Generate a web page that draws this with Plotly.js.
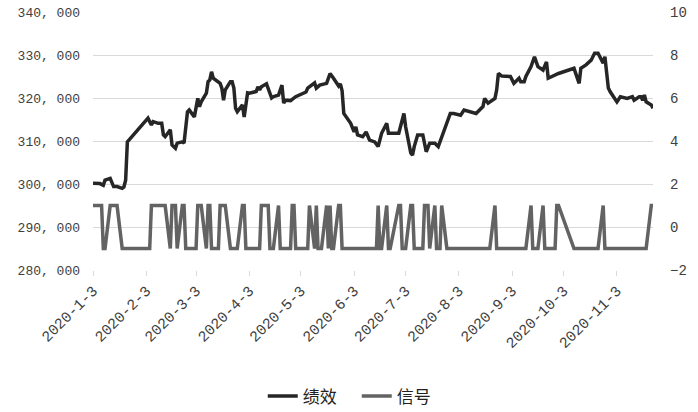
<!DOCTYPE html>
<html>
<head>
<meta charset="utf-8">
<script src="https://cdn.plot.ly/plotly-3.0.1.min.js"></script>
<style>
  html, body { margin: 0; padding: 0; background: #fff; }
  #graf { width: 698px; height: 412px; }
</style>
</head>
<body>
<div id="graf"></div>
<script>
// 绩效 (left axis)
let perfDates = [
  '2020-01-03','2020-01-07','2020-01-09','2020-01-10','2020-01-13','2020-01-14','2020-01-15','2020-01-17',
  '2020-01-20','2020-01-21','2020-01-22','2020-01-23','2020-02-04','2020-02-06','2020-02-07','2020-02-10',
  '2020-02-12','2020-02-13','2020-02-14','2020-02-17','2020-02-18','2020-02-20','2020-02-21','2020-02-24',
  '2020-02-25','2020-02-27','2020-02-28','2020-03-02','2020-03-03','2020-03-04','2020-03-05','2020-03-06',
  '2020-03-09','2020-03-10','2020-03-11','2020-03-12','2020-03-13','2020-03-16','2020-03-17','2020-03-18',
  '2020-03-19','2020-03-20','2020-03-23','2020-03-24','2020-03-25','2020-03-26','2020-03-27','2020-03-30',
  '2020-03-31','2020-04-02','2020-04-03','2020-04-07','2020-04-08','2020-04-09','2020-04-10','2020-04-13',
  '2020-04-14','2020-04-16','2020-04-17','2020-04-20','2020-04-22','2020-04-23','2020-04-24','2020-04-27',
  '2020-04-30','2020-05-06','2020-05-07','2020-05-08','2020-05-11','2020-05-12','2020-05-14','2020-05-18',
  '2020-05-19','2020-05-20','2020-05-22','2020-05-25','2020-05-26','2020-05-27','2020-05-28','2020-06-01',
  '2020-06-03','2020-06-04','2020-06-05','2020-06-08','2020-06-10','2020-06-12','2020-06-15','2020-06-17',
  '2020-06-19','2020-06-22','2020-06-23','2020-06-29','2020-07-02','2020-07-03','2020-07-06','2020-07-07',
  '2020-07-08','2020-07-10','2020-07-13','2020-07-15','2020-07-17','2020-07-20','2020-07-22','2020-07-24',
  '2020-07-29','2020-07-31','2020-08-04','2020-08-06','2020-08-10','2020-08-13','2020-08-17','2020-08-18',
  '2020-08-20','2020-08-24','2020-08-25','2020-08-26','2020-08-28','2020-09-02','2020-09-04','2020-09-07',
  '2020-09-08','2020-09-10','2020-09-11','2020-09-14','2020-09-16','2020-09-18','2020-09-21','2020-09-23',
  '2020-09-24','2020-09-28','2020-09-30','2020-10-09','2020-10-12','2020-10-13','2020-10-16','2020-10-19',
  '2020-10-21','2020-10-23','2020-10-26','2020-10-27','2020-10-29','2020-10-30','2020-11-03','2020-11-05',
  '2020-11-09','2020-11-12','2020-11-13','2020-11-16','2020-11-17','2020-11-18','2020-11-19','2020-11-20',
  '2020-11-23','2020-11-24'
];
let perfValues = [
  300200,300100,299700,300900,301300,300200,299400,299400,
  299000,299300,300900,309800,315300,313700,314500,314100,
  314100,311400,311000,312600,309100,308300,309500,309800,
  309500,316800,317200,315600,317700,319900,318000,319100,
  321100,323800,324200,326100,324600,323800,323400,322300,
  319500,321900,323800,323800,322300,317600,316800,318400,
  315600,321200,321100,321500,322600,321900,322600,323300,
  322300,320000,320300,320700,323000,318800,319500,319400,
  320300,321400,322300,322600,323500,322300,323000,323400,
  324600,325700,324600,322800,323300,321700,316400,314100,
  312100,313300,311400,311000,312100,310200,309800,308700,
  311800,314100,311800,311800,316400,313300,307200,306700,
  308700,311400,311400,307500,309500,309500,308700,311000,
  316400,316400,316000,317200,316800,316400,318000,319900,
  318800,319900,321900,325700,325100,325000,323400,324600,
  323800,323800,325000,327300,329600,327300,326500,328400,
  324600,325300,325700,326900,323400,326900,327700,328800,
  330400,330400,328100,329600,322300,321500,319100,320300,
  319900,320300,319500,320300,320300,319500,320700,319100,
  318400,317600
];

// 信号 (right axis), only the days where the level starts or ends
let sigDates = [
  '2020-01-03','2020-01-08','2020-01-09','2020-01-10','2020-01-13','2020-01-17','2020-01-20','2020-02-05',
  '2020-02-06','2020-02-14','2020-02-17','2020-02-18','2020-02-20','2020-02-21','2020-02-24','2020-02-25',
  '2020-02-26','2020-03-03','2020-03-04','2020-03-06','2020-03-09','2020-03-10','2020-03-11','2020-03-12',
  '2020-03-16','2020-03-17','2020-03-20','2020-03-23','2020-03-27','2020-03-30','2020-03-31','2020-04-01',
  '2020-04-09','2020-04-10','2020-04-14','2020-04-15','2020-04-17','2020-04-20','2020-04-21','2020-04-27',
  '2020-04-28','2020-04-29','2020-04-30','2020-05-07','2020-05-08','2020-05-11','2020-05-12','2020-05-13',
  '2020-05-15','2020-05-18','2020-05-19','2020-05-20','2020-05-21','2020-05-22','2020-05-25','2020-05-26',
  '2020-05-27','2020-06-16','2020-06-17','2020-06-18','2020-06-19','2020-06-22','2020-06-23','2020-06-24',
  '2020-06-29','2020-06-30','2020-07-01','2020-07-03','2020-07-06','2020-07-07','2020-07-08','2020-07-13',
  '2020-07-14','2020-07-16','2020-07-17','2020-07-20','2020-07-21','2020-07-23','2020-07-24','2020-07-27',
  '2020-08-21','2020-08-24','2020-08-25','2020-09-11','2020-09-14','2020-09-15','2020-09-18','2020-09-21',
  '2020-09-22','2020-09-28','2020-09-29','2020-09-30','2020-10-09','2020-10-23','2020-10-26','2020-10-27',
  '2020-11-20','2020-11-23','2020-11-24'
];
let sigValues = [
  1,1,-1,-1,1,1,-1,-1,
  1,1,-1,1,1,-1,1,1,
  -1,-1,1,1,-1,1,1,-1,
  -1,1,1,-1,-1,1,1,-1,
  -1,1,1,-1,-1,1,-1,-1,
  1,1,-1,-1,1,-1,1,-1,
  -1,1,-1,1,-1,-1,1,1,
  -1,-1,1,-1,-1,1,-1,-1,
  1,1,-1,-1,1,1,-1,-1,
  1,1,-1,1,-1,-1,1,-1,
  -1,1,-1,-1,1,-1,-1,1,
  -1,-1,1,1,-1,-1,1,-1,
  -1,1,1
];

let monthTicks = ['2020-01-03','2020-02-03','2020-03-03','2020-04-03','2020-05-03','2020-06-03',
                  '2020-07-03','2020-08-03','2020-09-03','2020-10-03','2020-11-03'];
let monthLabels = ['2020-1-3','2020-2-3','2020-3-3','2020-4-3','2020-5-3','2020-6-3',
                   '2020-7-3','2020-8-3','2020-9-3','2020-10-3','2020-11-3'];
let leftTicks = [280000,290000,300000,310000,320000,330000,340000];
let leftLabels = ['280, 000','290, 000','300, 000','310, 000','320, 000','330, 000','340, 000'];

let monoFont = 'Liberation Mono, Noto Sans CJK SC, monospace';

trace1 = {
    x: perfDates,
    y: perfValues,
    type: 'scatter',
    mode: 'lines',
    line: {color: '#262626', width: 3.5},
    name: '绩效'
};

trace2 = {
    x: sigDates,
    y: sigValues,
    type: 'scatter',
    mode: 'lines',
    yaxis: 'y2',
    line: {color: '#636363', width: 3.5},
    name: '信号'
};

layout = {
    width: 698,
    height: 412,
    margin: {l: 93, r: 45, t: 12, b: 142, autoexpand: false},
    paper_bgcolor: '#fff',
    plot_bgcolor: '#fff',
    showlegend: true,
    legend: {
        orientation: 'h',
        x: 0.471, xanchor: 'center',
        y: -0.49, yanchor: 'middle',
        entrywidth: 49,
        font: {family: 'Noto Sans CJK SC, sans-serif', size: 17, color: '#222'}
    },
    xaxis: {
        type: 'date',
        automargin: false,
        range: ['2020-01-03', '2020-11-24'],
        tickmode: 'array',
        tickvals: monthTicks,
        ticktext: monthLabels,
        tickangle: -45,
        ticks: 'outside',
        ticklen: 5,
        tickcolor: '#d9d9d9',
        showgrid: false,
        showline: false,
        zeroline: false,
        tickfont: {family: monoFont, size: 15, color: '#404040'}
    },
    yaxis: {
        automargin: false,
        range: [280000, 340000],
        tickmode: 'array',
        tickvals: leftTicks,
        ticktext: leftLabels,
        showgrid: true,
        gridcolor: '#d9d9d9',
        gridwidth: 1,
        zeroline: false,
        showline: false,
        ticks: '',
        ticklabelstandoff: 12,
        tickfont: {family: monoFont, size: 13, color: '#404040'}
    },
    yaxis2: {
        automargin: false,
        overlaying: 'y',
        side: 'right',
        range: [-2, 10],
        dtick: 2,
        showgrid: false,
        zeroline: false,
        showline: false,
        ticks: '',
        ticklabelstandoff: 16,
        tickfont: {family: monoFont, size: 14, color: '#404040'}
    }
};

graf = document.getElementById('graf');
Plotly.newPlot(graf, [trace1, trace2], layout, {displayModeBar: false, staticPlot: true});
</script>
</body>
</html>
